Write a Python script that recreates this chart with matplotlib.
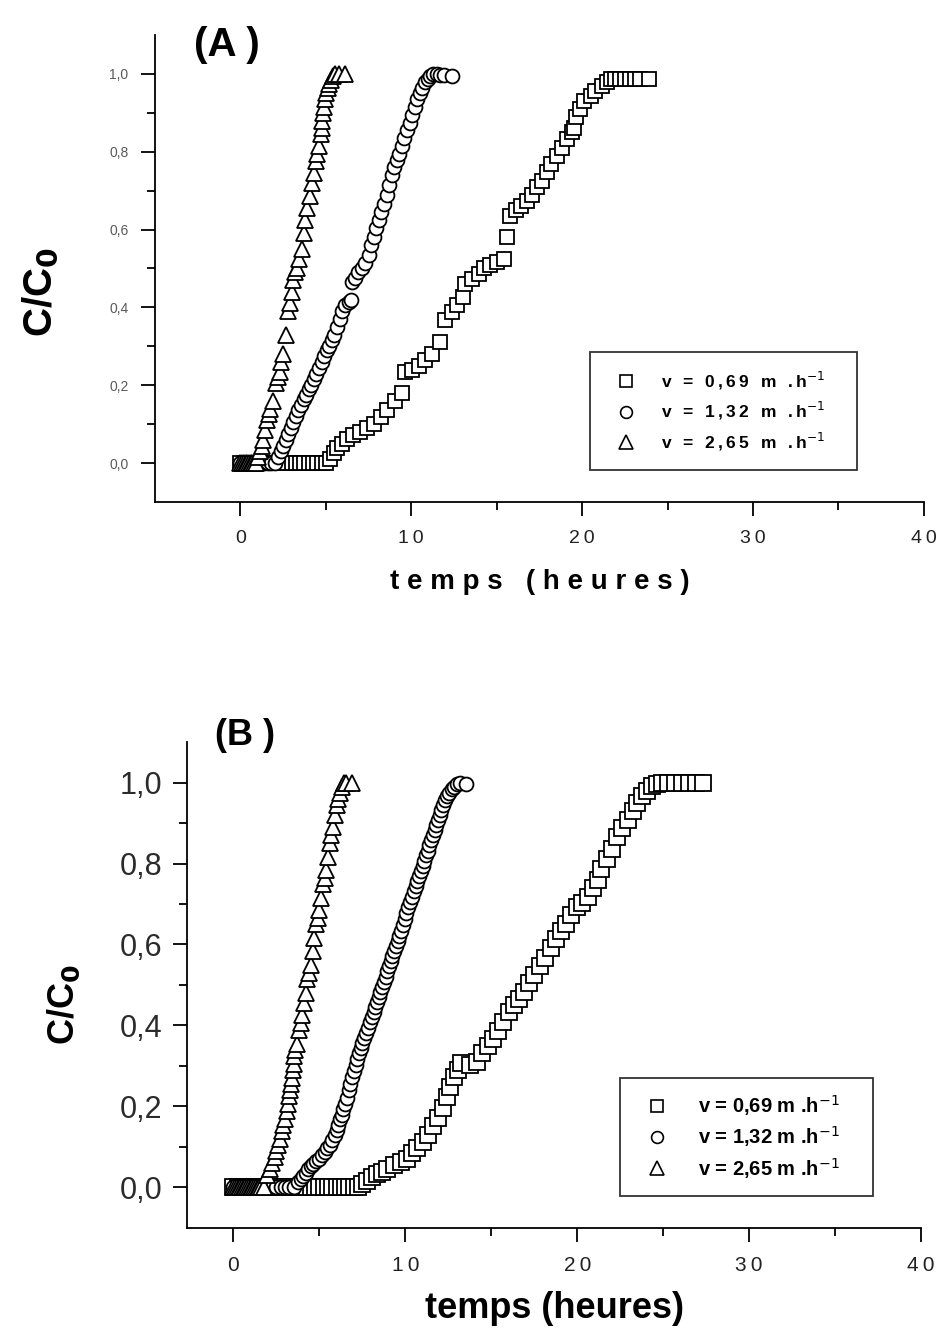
import matplotlib
matplotlib.use("Agg")
import matplotlib.pyplot as plt
from matplotlib.ticker import FixedLocator
from matplotlib.lines import Line2D

SANS = ["Liberation Sans", "DejaVu Sans"]

speeds = ["0,69", "1,32", "2,65"]

# ---------------- (A) ----------------
tA_069 = [0, 0.25, 0.5, 0.75, 1.0, 1.25, 1.5, 1.75, 2.0, 2.25, 2.5, 2.75, 3.0, 3.25,
          3.5, 3.75, 4.0, 4.25, 4.5, 4.75, 5.0, 5.25, 5.45, 5.65, 5.95, 6.25, 6.6, 7.0,
          7.4, 7.8, 8.2, 8.6, 9.05, 9.45, 9.65, 10.05, 10.45, 10.8, 11.2, 11.7, 12.0,
          12.4, 12.7, 13.05, 13.15, 13.55, 13.95, 14.25, 14.6, 15.0, 15.4, 15.6, 15.8,
          16.1, 16.4, 16.75, 17.05, 17.35, 17.65, 17.95, 18.2, 18.5, 18.8, 19.1, 19.4,
          19.5, 19.65, 19.85, 20.1, 20.5, 20.75, 21.15, 21.45, 21.7, 21.9, 22.2, 22.5,
          22.8, 23.1, 23.4, 23.9]
cA_069 = [0, 0, 0, 0, 0, 0, 0, 0, 0, 0, 0, 0, 0, 0,
          0, 0, 0, 0, 0, 0, 0, 0.01, 0.025, 0.038, 0.05, 0.063, 0.072, 0.08,
          0.089, 0.1, 0.119, 0.136, 0.16, 0.18, 0.234, 0.238, 0.25, 0.264, 0.28, 0.31, 0.367,
          0.388, 0.405, 0.426, 0.46, 0.473, 0.486, 0.5, 0.508, 0.516, 0.525, 0.58, 0.636,
          0.65, 0.66, 0.674, 0.69, 0.709, 0.726, 0.747, 0.768, 0.79, 0.81, 0.832, 0.85,
          0.862, 0.888, 0.909, 0.93, 0.944, 0.956, 0.97, 0.978, 0.986, 0.986, 0.986, 0.986,
          0.986, 0.986, 0.986, 0.986]

tA_132 = [0, 0.2, 0.4, 0.6, 0.8, 1.0, 1.2, 1.4, 1.6, 1.8, 2.0, 2.2, 2.35, 2.5, 2.65, 2.8,
          2.95, 3.1, 3.25, 3.4, 3.55, 3.7, 3.85, 4.0, 4.15, 4.3, 4.45, 4.6, 4.75, 4.9,
          5.05, 5.2, 5.35, 5.5, 5.65, 5.8, 5.95, 6.15, 6.35, 6.5, 6.55, 6.7, 6.9, 7.1,
          7.3, 7.5, 7.65, 7.8, 7.95, 8.1, 8.25, 8.4, 8.55, 8.7, 8.85, 9.0, 9.15, 9.3,
          9.45, 9.6, 9.75, 9.9, 10.05, 10.2, 10.35, 10.5, 10.65, 10.8, 10.95, 11.1, 11.3,
          11.5, 11.7, 11.9, 12.4]
cA_132 = [0, 0, 0, 0, 0, 0, 0, 0, 0, 0, 0, 0.015, 0.03, 0.045, 0.06, 0.075,
          0.09, 0.105, 0.12, 0.135, 0.15, 0.165, 0.175, 0.19, 0.2, 0.215, 0.23, 0.245, 0.26, 0.275,
          0.29, 0.3, 0.315, 0.33, 0.35, 0.37, 0.39, 0.405, 0.415, 0.42, 0.465, 0.475, 0.49, 0.5,
          0.515, 0.535, 0.56, 0.58, 0.605, 0.625, 0.645, 0.665, 0.69, 0.715, 0.74, 0.76, 0.78, 0.795,
          0.815, 0.835, 0.855, 0.875, 0.895, 0.915, 0.935, 0.95, 0.965, 0.978, 0.988, 0.995, 1.0,
          1.0, 0.998, 0.996, 0.995]

tA_265 = [0, 0.1, 0.2, 0.3, 0.4, 0.5, 0.6, 0.7, 0.8, 0.9, 1.05, 1.15, 1.25, 1.35, 1.45,
          1.55, 1.65, 1.75, 1.9, 2.1, 2.2, 2.3, 2.4, 2.5, 2.65, 2.8, 2.9, 3.0, 3.1, 3.2,
          3.3, 3.45, 3.6, 3.7, 3.8, 3.9, 4.05, 4.2, 4.3, 4.4, 4.5, 4.6, 4.7, 4.75, 4.8,
          4.85, 4.9, 4.95, 5.0, 5.1, 5.2, 5.3, 5.4, 5.55, 5.75, 6.1]
cA_265 = [0, 0, 0, 0, 0, 0, 0, 0, 0, 0, 0.015, 0.03, 0.045, 0.06, 0.085,
          0.11, 0.125, 0.14, 0.16, 0.205, 0.22, 0.235, 0.26, 0.28, 0.33, 0.39, 0.41, 0.44, 0.47, 0.49,
          0.5, 0.525, 0.55, 0.59, 0.625, 0.655, 0.685, 0.72, 0.745, 0.775, 0.795, 0.815, 0.845, 0.86, 0.88,
          0.9, 0.915, 0.935, 0.95, 0.965, 0.975, 0.985, 0.995, 1.0, 1.0, 1.0]

# ---------------- (B) ----------------
tB_069 = [0, 0.25, 0.5, 0.75, 1.0, 1.25, 1.5, 1.75, 2.0, 2.25, 2.5, 2.75, 3.0, 3.25,
          3.5, 3.75, 4.0, 4.25, 4.5, 4.75, 5.0, 5.25, 5.5, 5.75, 6.0, 6.25, 6.5, 6.75,
          7.0, 7.25, 7.5, 7.75, 8.05, 8.35, 8.65, 8.95, 9.35, 9.75, 10.1, 10.4, 10.7, 11.0,
          11.3, 11.6, 11.9, 12.2, 12.4, 12.6, 12.85, 13.05, 13.25, 13.75, 14.15, 14.45, 14.8,
          15.1, 15.4, 15.7, 16.0, 16.3, 16.6, 16.9, 17.2, 17.5, 17.85, 18.15, 18.45, 18.75,
          19.05, 19.35, 19.65, 20.0, 20.3, 20.6, 20.9, 21.2, 21.4, 21.7, 22.0, 22.3, 22.6,
          22.95, 23.25, 23.45, 23.75, 24.05, 24.35, 24.65, 24.9, 25.3, 25.7, 26.1, 26.5,
          26.9, 27.3]
cB_069 = [0, 0, 0, 0, 0, 0, 0, 0, 0, 0, 0, 0, 0, 0,
          0, 0, 0, 0, 0, 0, 0, 0, 0, 0, 0, 0, 0, 0,
          0, 0, 0.008, 0.017, 0.025, 0.034, 0.038, 0.046, 0.055, 0.063, 0.071, 0.084, 0.097, 0.113,
          0.13, 0.151, 0.172, 0.197, 0.223, 0.248, 0.273, 0.29, 0.307, 0.303, 0.311, 0.332, 0.349,
          0.366, 0.387, 0.408, 0.433, 0.45, 0.466, 0.483, 0.504, 0.525, 0.546, 0.567, 0.592, 0.613,
          0.634, 0.651, 0.672, 0.693, 0.702, 0.718, 0.739, 0.76, 0.786, 0.81, 0.836, 0.866, 0.887,
          0.908, 0.929, 0.95, 0.966, 0.979, 0.992, 0.997, 1.0, 1.0, 1.0, 1.0, 1.0,
          1.0, 1.0]

tB_132 = [0, 0.25, 0.5, 0.75, 1.0, 1.25, 1.5, 1.75, 2.0, 2.25, 2.5, 2.75, 3.0, 3.25,
          3.5, 3.75, 3.9, 4.05, 4.2, 4.35, 4.5, 4.65, 4.8, 4.95, 5.15, 5.3, 5.45, 5.6,
          5.75, 5.9, 6.0, 6.1, 6.2, 6.3, 6.4, 6.5, 6.6, 6.7, 6.8, 6.9, 7.0, 7.1, 7.2,
          7.3, 7.4, 7.5, 7.6, 7.7, 7.8, 7.95, 8.05, 8.15, 8.25, 8.35, 8.45, 8.55, 8.65,
          8.75, 8.85, 8.95, 9.05, 9.15, 9.25, 9.35, 9.45, 9.55, 9.65, 9.75, 9.85, 9.95,
          10.05, 10.15, 10.25, 10.4, 10.5, 10.6, 10.7, 10.8, 10.9, 11.0, 11.1, 11.2, 11.3,
          11.4, 11.5, 11.6, 11.7, 11.8, 11.9, 12.0, 12.1, 12.2, 12.3, 12.4, 12.55, 12.7,
          12.85, 13.0, 13.2, 13.55]
cB_132 = [0, 0, 0, 0, 0, 0, 0, 0, 0, 0, 0, 0, 0, 0,
          0, 0.013, 0.02, 0.029, 0.037, 0.046, 0.052, 0.059, 0.065, 0.071, 0.08, 0.088, 0.097, 0.105,
          0.118, 0.13, 0.142, 0.155, 0.168, 0.18, 0.193, 0.206, 0.222, 0.24, 0.256, 0.273, 0.288, 0.303, 0.318,
          0.332, 0.345, 0.357, 0.37, 0.382, 0.395, 0.408, 0.42, 0.433, 0.445, 0.458, 0.47, 0.483, 0.495,
          0.508, 0.52, 0.534, 0.546, 0.559, 0.571, 0.584, 0.596, 0.609, 0.621, 0.634, 0.649, 0.664,
          0.678, 0.693, 0.705, 0.718, 0.731, 0.744, 0.756, 0.769, 0.781, 0.794, 0.807, 0.82, 0.832,
          0.845, 0.857, 0.87, 0.882, 0.895, 0.907, 0.92, 0.932, 0.945, 0.956, 0.966, 0.975, 0.983,
          0.99, 0.996, 0.998, 0.997]

tB_265 = [0, 0.1, 0.2, 0.3, 0.4, 0.5, 0.6, 0.7, 0.8, 0.9, 1.0, 1.1, 1.2, 1.3, 1.4,
          1.5, 1.6, 1.75, 1.95, 2.1, 2.25, 2.4, 2.5, 2.6, 2.7, 2.8, 2.9, 3.0, 3.1, 3.2,
          3.25, 3.3, 3.35, 3.4, 3.45, 3.5, 3.55, 3.6, 3.7, 3.8, 3.9, 4.0, 4.1, 4.2, 4.3,
          4.4, 4.5, 4.6, 4.7, 4.8, 4.9, 5.0, 5.1, 5.2, 5.3, 5.4, 5.5, 5.6, 5.7, 5.8, 5.9,
          6.0, 6.1, 6.2, 6.3, 6.45, 6.55, 6.9]
cB_265 = [0, 0, 0, 0, 0, 0, 0, 0, 0, 0, 0, 0, 0, 0, 0,
          0, 0, 0, 0.03, 0.045, 0.06, 0.075, 0.09, 0.105, 0.12, 0.14, 0.155, 0.17, 0.19, 0.205,
          0.225, 0.24, 0.255, 0.27, 0.29, 0.305, 0.325, 0.34, 0.355, 0.39, 0.405, 0.425, 0.455, 0.48, 0.515,
          0.53, 0.55, 0.585, 0.615, 0.65, 0.665, 0.685, 0.715, 0.75, 0.765, 0.785, 0.815, 0.85, 0.87, 0.89, 0.92,
          0.945, 0.96, 0.975, 0.99, 1.0, 1.0, 1.0]

fig = plt.figure(figsize=(9.38, 13.3), dpi=100)
fig.patch.set_facecolor("white")

axA = fig.add_axes([0.1652, 0.6226, 0.8198, 0.3511])
axB = fig.add_axes([0.1994, 0.0767, 0.7826, 0.3654])


def spaced(s, gap="\u2009"):
    return gap.join(s)


def style_axes(ax, xmin, ytick_size, ytick_color, ypad, xtick_size, xtick_labels):
    ax.set_xlim(xmin, 40)
    ax.set_ylim(-0.1, 1.1)
    for side in ("top", "right"):
        ax.spines[side].set_visible(False)
    for side in ("left", "bottom"):
        ax.spines[side].set_linewidth(1.3)
    ax.xaxis.set_major_locator(FixedLocator([0, 10, 20, 30, 40]))
    ax.xaxis.set_minor_locator(FixedLocator([5, 15, 25, 35]))
    ax.yaxis.set_major_locator(FixedLocator([0, 0.2, 0.4, 0.6, 0.8, 1.0]))
    ax.yaxis.set_minor_locator(FixedLocator([0.1, 0.3, 0.5, 0.7, 0.9]))
    ax.set_yticklabels(["0,0", "0,2", "0,4", "0,6", "0,8", "1,0"])
    ax.set_xticklabels(xtick_labels)
    ax.tick_params(axis="both", which="major", direction="out", length=10, width=1.3)
    ax.tick_params(axis="both", which="minor", direction="out", length=6, width=1.3)
    ax.tick_params(axis="x", which="major", pad=10)
    ax.tick_params(axis="y", which="major", pad=ypad)
    for lab in ax.get_xticklabels():
        lab.set_fontfamily(SANS)
        lab.set_fontsize(xtick_size)
        lab.set_color("#222222")
    for lab in ax.get_yticklabels():
        lab.set_fontfamily(SANS)
        lab.set_fontsize(ytick_size)
        lab.set_color(ytick_color)


def draw_series(ax, series):
    for t, c, mk, s in series:
        ax.plot(t, c, linestyle="none", marker=mk, markersize=s,
                markerfacecolor="white", markeredgecolor="black", markeredgewidth=1.3,
                clip_on=False)


def add_legend(ax, box, texts, fs, ms, hpad, lspace, bpad):
    handles = [
        Line2D([], [], linestyle="none", marker="s", markersize=ms * 0.85,
               markerfacecolor="white", markeredgecolor="black", markeredgewidth=1.2),
        Line2D([], [], linestyle="none", marker="o", markersize=ms * 0.85,
               markerfacecolor="white", markeredgecolor="black", markeredgewidth=1.2),
        Line2D([], [], linestyle="none", marker="^", markersize=ms,
               markerfacecolor="white", markeredgecolor="black", markeredgewidth=1.2),
    ]
    leg = ax.legend(handles, texts, loc="upper left", bbox_to_anchor=box, mode="expand",
                    bbox_transform=fig.transFigure, frameon=True, fancybox=False,
                    handletextpad=hpad, labelspacing=lspace, borderpad=bpad,
                    handlelength=2.2, borderaxespad=0,
                    prop={"family": SANS, "weight": "bold", "size": fs})
    leg.get_frame().set_edgecolor("black")
    leg.get_frame().set_linewidth(1.3)
    return leg


# Panel A
style_axes(axA, -5, 10, "#5a5a5a", 9, 14,
           [spaced(s) for s in ["0", "10", "20", "30", "40"]])
draw_series(axA, [
    (tA_069, cA_069, "s", 10),
    (tA_132, cA_132, "o", 10),
    (tA_265, cA_265, "^", 12),
])
axA.set_xlabel("t e m p s   ( h e u r e s )", fontsize=20, fontweight="bold",
               family=SANS, labelpad=16)
axA.set_ylabel("C/C$_\\mathbf{0}$", fontsize=29, fontweight="bold", family=SANS)
axA.yaxis.set_label_coords(-0.124, 0.45)
fig.text(0.207, 0.966, "(A )", fontsize=29, fontweight="bold", family=SANS, va="center")
textsA = [spaced("v = " + v + " m .h") + "$^{-1}$" for v in speeds]
add_legend(axA, (0.629, 0.6504, 0.2846, 0.0849), textsA, 12.5, 10, 0.9, 0.5, 1.0)

# Panel B
style_axes(axB, -2.7, 22, "#2b2b2b", 8, 15,
           [spaced(s) for s in ["0", "10", "20", "30", "40"]])
draw_series(axB, [
    (tB_069, cB_069, "s", 11),
    (tB_132, cB_132, "o", 10),
    (tB_265, cB_265, "^", 12),
])
axB.set_xlabel("temps (heures)", fontsize=26, fontweight="bold", family=SANS, labelpad=12)
axB.set_ylabel("C/C$_\\mathbf{0}$", fontsize=26, fontweight="bold", family=SANS)
axB.yaxis.set_label_coords(-0.143, 0.46)
fig.text(0.229, 0.447, "(B )", fontsize=26, fontweight="bold", family=SANS, va="center")
textsB = ["v = " + v + " m .h$^{-1}$" for v in speeds]
add_legend(axB, (0.661, 0.1015, 0.2697, 0.088), textsB, 14.5, 10, 0.9, 0.32, 0.75)

fig.savefig("out.png", dpi=100, facecolor="white")
